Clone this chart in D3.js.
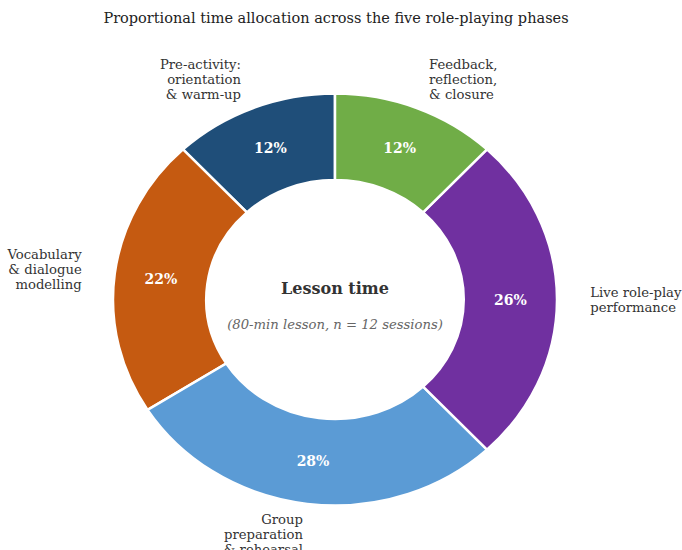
<!DOCTYPE html>
<html>
<head>
<meta charset="utf-8">
<script src="https://cdn.jsdelivr.net/npm/d3@7"></script>
<style>
  body { margin: 0; background: #fff; }
  svg { font-family: "DejaVu Serif", serif; }
  .seg { stroke: #fff; stroke-width: 2.5px; vector-effect: non-scaling-stroke; }
  .phase-label { font-size: 13.2px; fill: #333; }
  .pct { font-size: 14px; font-weight: bold; fill: #fff; }
</style>
</head>
<body>
<svg></svg>
<script>
// data (counterclockwise from 12 o'clock, like the original)
var phases = [
  ["Pre-activity:", "orientation", "& warm-up"],
  ["Vocabulary", "& dialogue", "modelling"],
  ["Group", "preparation", "& rehearsal"],
  ["Live role-play", "performance"],
  ["Feedback,", "reflection,", "& closure"]
];
var shares = [12, 22, 28, 26, 12];
var colors = ["#1f4e79", "#c55a11", "#5b9bd5", "#7030a0", "#70ad47"];

// layout
var svgWidth = 682, svgHeight = 550,
    center = [335, 299.5],
    radius = 206,
    stretchX = 222 / 206,   // picture is a bit wider than tall
    innerRatio = 0.58,
    labelDist = 1.15;

var svg = d3.select("svg")
  .attr("width", svgWidth)
  .attr("height", svgHeight);

svg.append("text")
  .attr("x", 336).attr("y", 18)
  .attr("text-anchor", "middle")
  .attr("dominant-baseline", "central")
  .style("font-size", "14.5px")
  .style("fill", "#222")
  .text("Proportional time allocation across the five role-playing phases");

var pie = d3.pie().sort(null).startAngle(0).endAngle(-2 * Math.PI);
var arcs = pie(shares);

var arc = d3.arc()
  .innerRadius(radius * innerRatio)
  .outerRadius(radius);

var chart = svg.append("g")
  .attr("transform", "translate(" + center + ")");

chart.append("g")
  .attr("transform", "scale(" + stretchX + ",1)")
  .selectAll("path")
  .data(arcs)
  .enter()
  .append("path")
  .classed("seg", true)
  .attr("d", arc)
  .style("fill", function(d, i) { return colors[i]; });

// percentage labels
chart.selectAll(".pct")
  .data(arcs)
  .enter()
  .append("text")
  .classed("pct", true)
  .attr("x", function(d) { return arc.centroid(d)[0] * stretchX; })
  .attr("y", function(d) { return arc.centroid(d)[1]; })
  .attr("text-anchor", "middle")
  .attr("dominant-baseline", "central")
  .text(function(d) { return d.value + "%"; });

// outer phase labels
var lineH = 15;
var labels = chart.selectAll(".phase-label")
  .data(arcs)
  .enter()
  .append("text")
  .classed("phase-label", true)
  .attr("text-anchor", function(d) {
    var a = (d.startAngle + d.endAngle) / 2;
    return Math.sin(a) < -1e-6 ? "end" : "start";
  })
  .attr("transform", function(d) {
    var a = (d.startAngle + d.endAngle) / 2;
    var x = Math.sin(a) * radius * labelDist * stretchX,
        y = -Math.cos(a) * radius * labelDist;
    return "translate(" + [x, y] + ")";
  });

labels.each(function(d, i) {
  var lines = phases[i];
  var t = d3.select(this);
  lines.forEach(function(s, k) {
    t.append("tspan")
      .attr("x", 0)
      .attr("y", (k - (lines.length - 1) / 2) * lineH)
      .attr("dominant-baseline", "central")
      .text(s);
  });
});

// centre text
chart.append("text")
  .attr("x", 0).attr("y", -11)
  .attr("text-anchor", "middle")
  .attr("dominant-baseline", "central")
  .style("font-size", "16px")
  .style("font-weight", "bold")
  .style("fill", "#333")
  .text("Lesson time");

chart.append("text")
  .attr("x", 0).attr("y", 24.5)
  .attr("text-anchor", "middle")
  .attr("dominant-baseline", "central")
  .style("font-size", "13.2px")
  .style("font-style", "italic")
  .style("fill", "#666")
  .text("(80-min lesson, n = 12 sessions)");
</script>
</body>
</html>
